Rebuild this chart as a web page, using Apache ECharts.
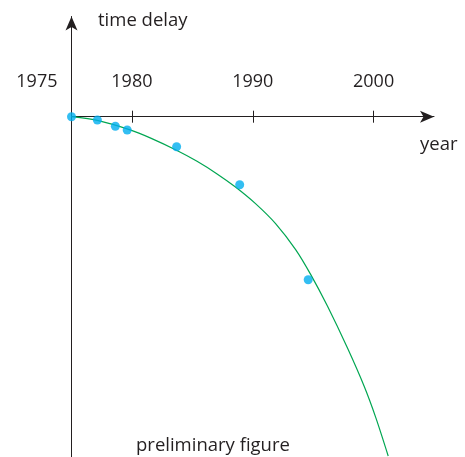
<!DOCTYPE html>
<html>
<head>
<meta charset="utf-8">
<script src="https://cdn.jsdelivr.net/npm/echarts@6/dist/echarts.min.js"></script>
<style>
html,body{margin:0;padding:0;background:#fff;}
#c{width:465px;height:457px;}
</style>
</head>
<body>
<div id="c"></div>
<script>
// Year labels and ticks on the x axis
const labelYears = [1975, 1980, 1990, 2000];
const tickYears = [1980, 1990, 2000];
// Measured points (year, time delay in arbitrary units)
const pointYears = [1975.0, 1977.14, 1978.63, 1979.61, 1983.70, 1988.92, 1994.59];
const pointDelays = [0, -0.33, -0.96, -1.33, -3.0, -6.81, -16.3];
// Fitted curve
const curveYears = [1975.00, 1977.22, 1979.85, 1981.51, 1983.73, 1985.39, 1987.05, 1988.57, 1990.23, 1991.89, 1993.55, 1994.79, 1996.18, 1997.84, 1999.22, 2000.19, 2001.21];
const curveDelays = [0, -0.40, -1.32, -2.12, -3.38, -4.46, -5.72, -7.03, -8.69, -10.69, -13.29, -15.77, -18.94, -23.14, -26.96, -30.12, -33.93];

const FONT = 'Open Sans';
const ink = '#231f20';

const chart = echarts.init(document.getElementById('c'), null, {renderer: 'canvas'});
chart.setOption({
  animation: false,
  backgroundColor: '#fff',
  grid: [
    {left: 71.5, right: 31, top: 116.7, bottom: 0, containLabel: false, outerBoundsMode: 'none'},
    {left: 71.5, right: 31, top: 16.5, height: 100.2, containLabel: false, outerBoundsMode: 'none'}
  ],
  xAxis: [{
    gridIndex: 0, type: 'value', min: 1975, max: 2005, position: 'top',
    axisLine: {onZero: false, lineStyle: {color: ink, width: 1}, symbol: ['none', 'arrow'], symbolSize: [9, 14]},
    axisTick: {show: true, length: 6, customValues: tickYears, lineStyle: {color: ink, width: 1}},
    axisLabel: {
      customValues: labelYears, margin: 26,
      color: ink, fontSize: 18, fontFamily: FONT, alignMinLabel: 'right',
      formatter: v => (v === 1975 ? '{p|' + v + '}' : String(v)),
      rich: {p: {padding: [0, 14, 0, 0], fontSize: 18, fontFamily: FONT, color: ink}}
    },
    splitLine: {show: false}
  }, {
    gridIndex: 1, type: 'value', min: 1975, max: 2005, position: 'bottom',
    axisLine: {onZero: false, show: false},
    axisTick: {show: true, length: 6, customValues: tickYears, lineStyle: {color: ink, width: 1}},
    axisLabel: {show: false},
    splitLine: {show: false}
  }],
  yAxis: [{
    gridIndex: 0, type: 'value', min: -34.03, max: 0,
    axisLine: {onZero: false, lineStyle: {color: ink, width: 1}},
    axisTick: {show: false}, axisLabel: {show: false}, splitLine: {show: false}
  }, {
    gridIndex: 1, type: 'value', min: 0, max: 10.02,
    axisLine: {onZero: false, lineStyle: {color: ink, width: 1}, symbol: ['none', 'arrow'], symbolSize: [9, 14]},
    axisTick: {show: false}, axisLabel: {show: false}, splitLine: {show: false}
  }],
  graphic: [
    {type: 'text', left: 98, top: 11, style: {text: 'time delay', font: '18.5px "Open Sans"', fill: ink}},
    {type: 'text', left: 420, top: 135, style: {text: 'year', font: '18.5px "Open Sans"', fill: ink}},
    {type: 'text', left: 136, top: 436, style: {text: 'preliminary figure', font: '18.5px "Open Sans"', fill: ink}}
  ],
  series: [{
    type: 'line', xAxisIndex: 0, yAxisIndex: 0, smooth: 0.3, showSymbol: false, clip: false,
    data: curveYears.map((y, i) => [y, curveDelays[i]]),
    lineStyle: {color: '#00a651', width: 1.2}, z: 2
  }, {
    type: 'scatter', xAxisIndex: 0, yAxisIndex: 0, symbolSize: 9, clip: false,
    data: pointYears.map((y, i) => [y, pointDelays[i]]),
    itemStyle: {color: '#00aeef'}, z: 3
  }]
});
</script>
</body>
</html>
